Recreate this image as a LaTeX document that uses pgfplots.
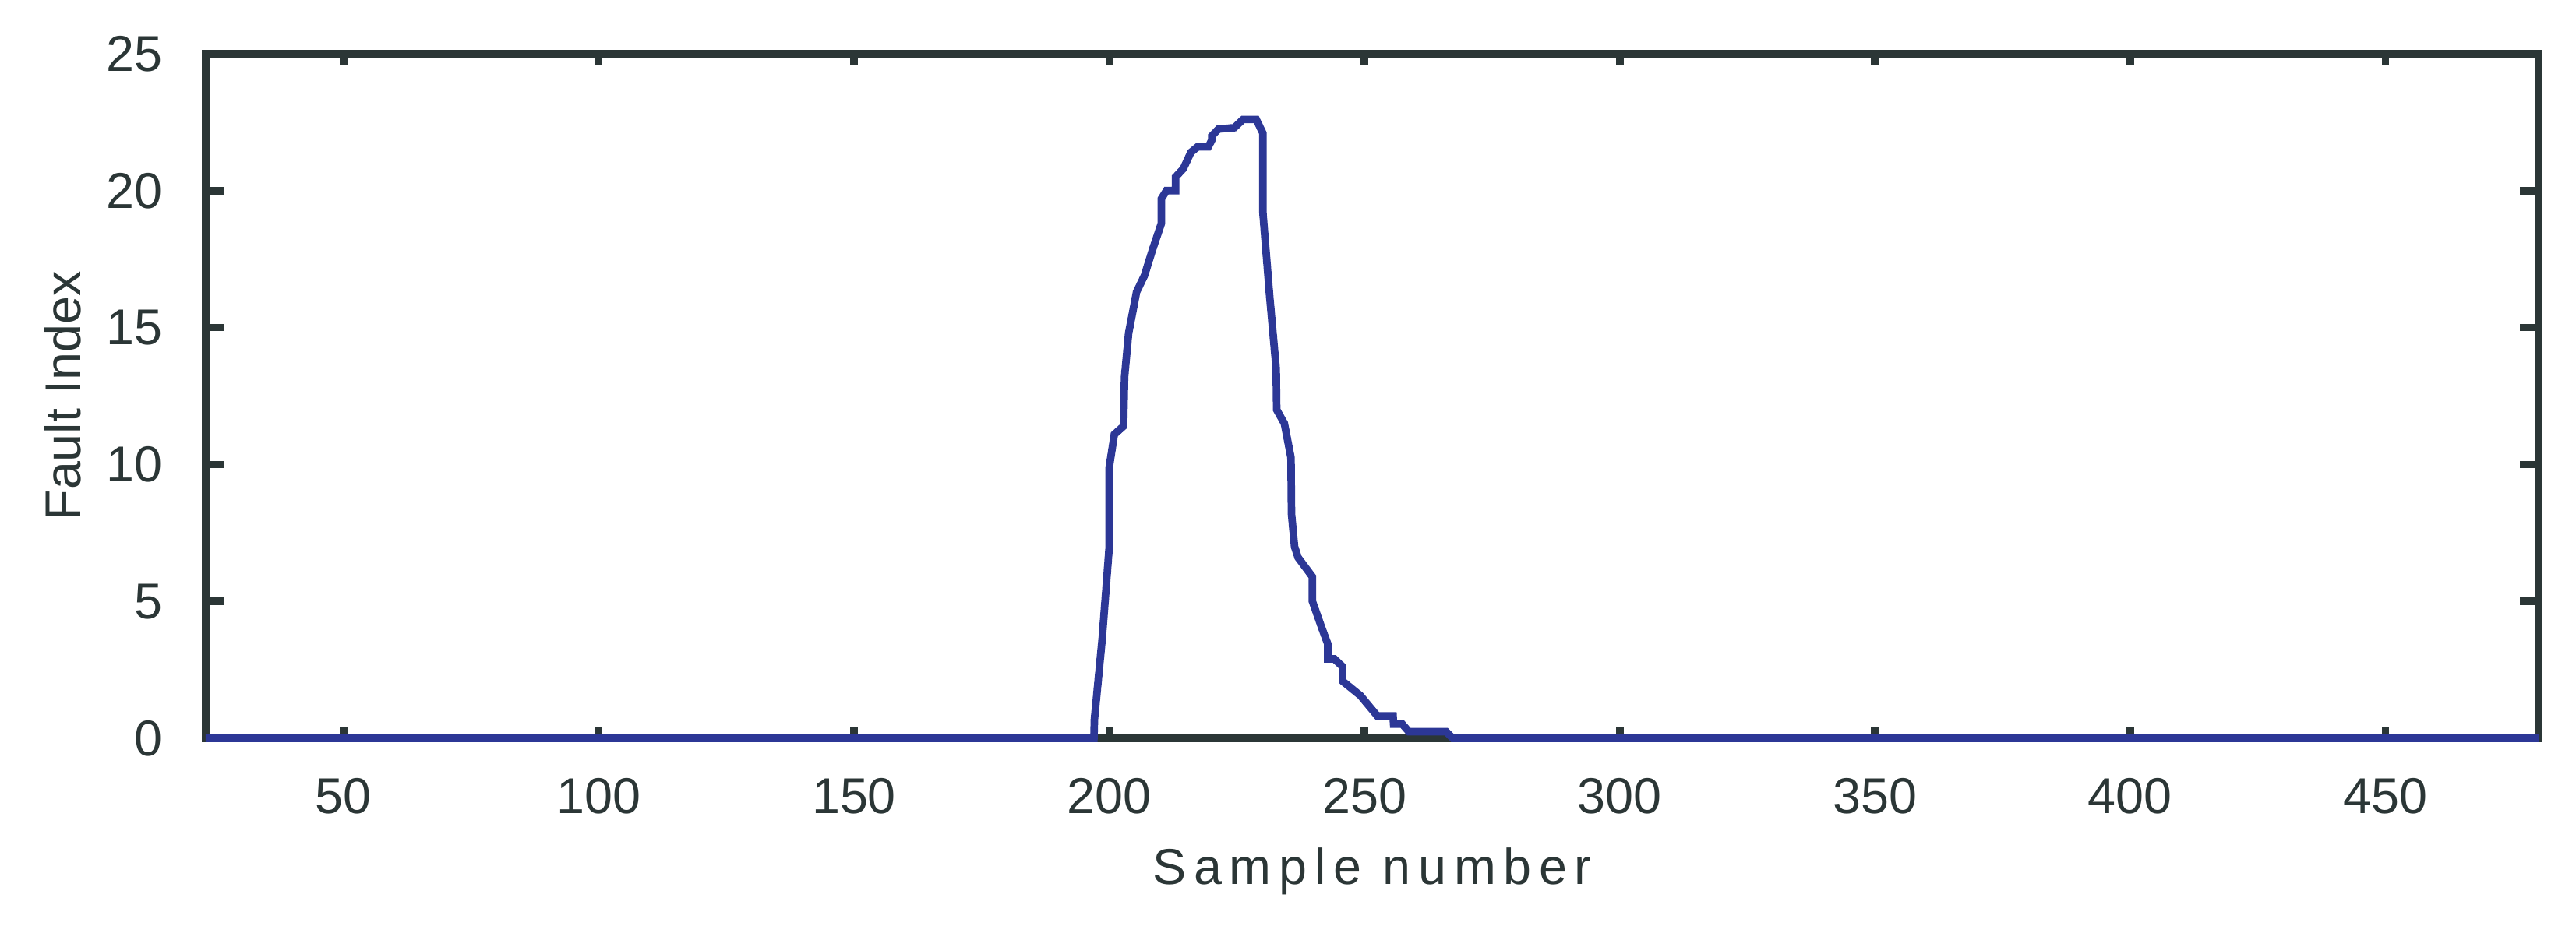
\documentclass[border=0pt]{standalone}
\usepackage{fontspec}
\setmainfont{Liberation Sans}
\usepackage{pgfplots}
\pgfplotsset{compat=1.18}
\definecolor{axisgray}{HTML}{2B3636}
\definecolor{faultblue}{HTML}{2C3796}

\begin{document}
\begin{tikzpicture}
\useasboundingbox (-1.32,-1.20) rectangle (15.21,4.74);
\begin{axis}[
  at={(0,0)}, anchor=south west,
  scale only axis,
  width=14.97cm, height=4.395cm,
  xmin=23, xmax=480, ymin=0, ymax=25,
  xtick={50,100,...,450}, ytick={0,5,...,25},
  tick align=inside,
  xtick style={/pgfplots/major tick length=0.07cm},
  ytick style={/pgfplots/major tick length=0.12cm},
  axis line style={draw=axisgray, line width=1.38pt},
  every tick/.style={draw=axisgray, line width=1.38pt},
  /pgf/number format/assume math mode=true,
  tick label style={font=\fontsize{9.2}{11}\selectfont, text=axisgray},
  xticklabel style={yshift=-3.8pt},
  yticklabel style={xshift=-4.4pt},
  label style={font=\fontsize{9.2}{11}\selectfont, text=axisgray},
  xlabel={\addfontfeatures{LetterSpace=15}Sample number},
  ylabel={Fault Index},
  xlabel style={at={(axis description cs:0.5,-0.2128)}, anchor=base},
  ylabel style={at={(axis description cs:-0.0615,0.5)}, anchor=center},
  clip=false,
]
\addplot[faultblue, line width=1.38pt] coordinates {
  (23,0) (197,0) (197.1,0.7) (198.6,3.6) (200,7.0) (200,9.9)
  (201,11.1) (202.8,11.4) (203,13.2) (203.8,14.8) (205.35,16.3)
  (206.9,16.9) (208.4,17.8) (210.2,18.8) (210.2,19.7) (211.2,20.0)
  (213,20.0) (213,20.5) (214.5,20.8) (216,21.4) (217.3,21.6)
  (219.4,21.6) (220.1,21.85) (220.1,22.0) (221.4,22.25) (224.5,22.3)
  (226.2,22.6) (228.8,22.6) (230.1,22.1) (230.1,19.2) (231.4,16.2)
  (232.7,13.5) (232.8,12.0) (234.3,11.5) (235.6,10.25) (235.7,8.2)
  (236.3,7.0) (237,6.6) (238.6,6.2) (239.8,5.9) (239.8,5.0)
  (241.6,4.05) (242.8,3.45) (242.8,2.9) (244.1,2.9) (245.7,2.62)
  (245.7,2.09) (249.2,1.56) (252.5,0.82) (255.6,0.82) (255.7,0.52)
  (257.4,0.52) (258.7,0.24) (266,0.24) (267.3,0) (480,0)
};
\end{axis}
\end{tikzpicture}
\end{document}
